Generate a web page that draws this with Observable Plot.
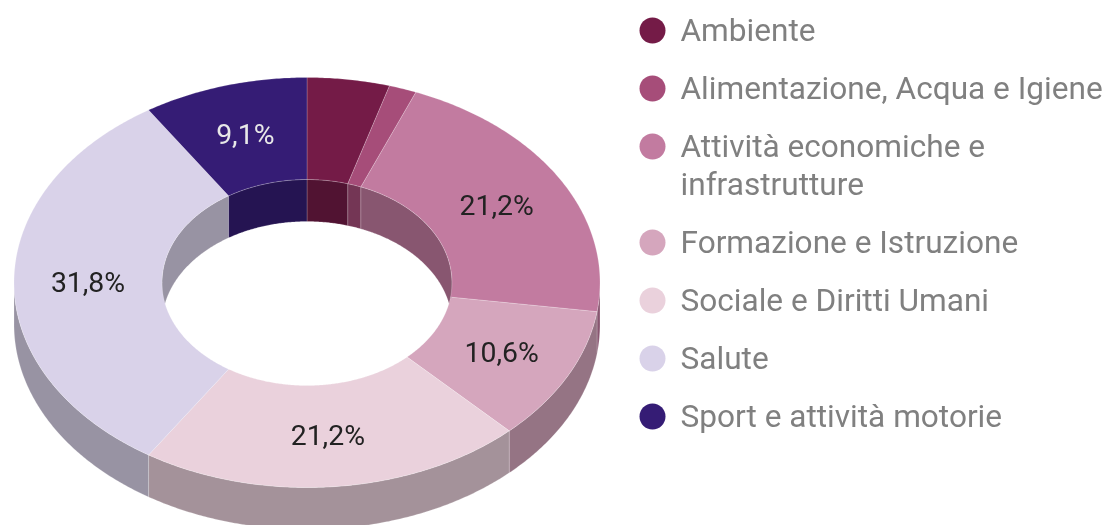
<!DOCTYPE html>
<html>
<head>
<meta charset="utf-8">
<script src="https://cdn.jsdelivr.net/npm/d3@7"></script>
<script src="https://cdn.jsdelivr.net/npm/@observablehq/plot@0.6"></script>
<style>html,body{margin:0;padding:0;background:#fff}svg{display:block;filter:blur(0.5px)}</style>
</head>
<body>
<div id="chart"></div>
<script>
const categories = ["Ambiente","Alimentazione, Acqua e Igiene","Attività economiche e\ninfrastrutture","Formazione e Istruzione","Sociale e Diritti Umani","Salute","Sport e attività motorie"];
const counts = [3,1,14,7,14,21,6];
const sliceLabels = ["","","21,2%","10,6%","21,2%","31,8%","9,1%"];
const colors = ["#741b47","#a64d79","#c27ba0","#d5a6bd","#ead1dc","#d9d2e9","#351c75"];
const labelColors = ["#fff","#fff","#222","#222","#222","#222","#e8e8e8"];

// ring geometry (tilted 3D donut)
const cx = 306.5, cy = 282, rxO = 293, ryO = 205, rxI = 145, ryI = 103, depth = 42, shade = 0.7;
const total = d3.sum(counts);
const ends = d3.cumsum(counts).map(v => v / total * 360);
const slices = counts.map((c, i) => ({i, a0: i ? ends[i-1] : 0, a1: ends[i]}));
const pt = (a, rx, ry, dy = 0) => {
  const t = a * Math.PI / 180;
  return {x: cx + rx * Math.sin(t), y: cy - ry * Math.cos(t) + dy};
};
const arc = (a0, a1, rx, ry, dy = 0) => {
  const n = Math.max(2, Math.ceil((a1 - a0) / 0.5));
  return d3.range(n + 1).map(k => pt(a0 + (a1 - a0) * k / n, rx, ry, dy));
};
const dark = c => { const r = d3.rgb(c); return d3.rgb(r.r*shade, r.g*shade, r.b*shade).formatHex(); };
const polys = [];
const add = (pts, color) => {
  const key = polys.length ? polys[polys.length-1].key + 1 : 0;
  [...pts, pts[0]].forEach(p => polys.push({...p, key, color}));
};
const clip = (s, lo, hi) => {
  const a0 = Math.max(s.a0, lo), a1 = Math.min(s.a1, hi);
  return a1 > a0 ? [a0, a1] : null;
};
// inner back wall
for (const s of slices) for (const [lo, hi] of [[0,90],[270,360]]) {
  const r = clip(s, lo, hi);
  if (r) add([...arc(r[0], r[1], rxI, ryI), ...arc(r[0], r[1], rxI, ryI, depth).reverse()], dark(colors[s.i]));
}
// outer front wall
for (const s of slices) {
  const r = clip(s, 90, 270);
  if (r) add([...arc(r[0], r[1], rxO, ryO), ...arc(r[0], r[1], rxO, ryO, depth).reverse()], dark(colors[s.i]));
}
// top faces
for (const s of slices) {
  add([...arc(s.a0, s.a1, rxO, ryO), ...arc(s.a0, s.a1, rxI, ryI).reverse()], colors[s.i]);
}
const labelled = slices.filter(s => sliceLabels[s.i]).map(s => {
  const p = pt((s.a0 + s.a1) / 2, (rxO + rxI) / 2, (ryO + ryI) / 2);
  return {...p, text: sliceLabels[s.i], color: labelColors[s.i]};
});

// legend rows
const legendX = 652, textX = 680, rowTop = 30, rowGap = 58, lineGap = 38;
let yCur = rowTop;
const legend = categories.map((c, i) => {
  const lines = c.split("\n").length;
  const first = yCur;
  yCur += rowGap + (lines - 1) * lineGap;
  return {label: c, color: colors[i], dotY: first, textY: first + (lines - 1) * lineGap / 2};
});

const font = "Roboto, sans-serif";
const chart = Plot.plot({
  width: 1107, height: 525, margin: 0,
  style: {background: "#fff", fontFamily: font},
  x: {domain: [0, 1107], range: [0, 1107], axis: null},
  y: {domain: [0, 525], range: [0, 525], axis: null},
  color: {type: "identity"},
  marks: [
    Plot.line(polys, {x: "x", y: "y", z: "key", fill: "color", stroke: "#fff", strokeOpacity: 0.2, strokeWidth: 1, curve: "linear", strokeLinejoin: "round"}),
    Plot.text(labelled, {x: "x", y: "y", text: "text", fill: "color", fontSize: 28.4, fontFamily: font}),
    Plot.dot(legend, {x: () => legendX, y: "dotY", r: 13, fill: "color", stroke: "#fff", strokeOpacity: 0}),
    Plot.text(legend, {x: () => textX, y: "textY", dy: -2, text: "label", fill: "#808080", fontSize: 31.6, textAnchor: "start", lineHeight: 38/31.6, fontFamily: font})
  ]
});
document.getElementById("chart").append(chart);
</script>
</body>
</html>
